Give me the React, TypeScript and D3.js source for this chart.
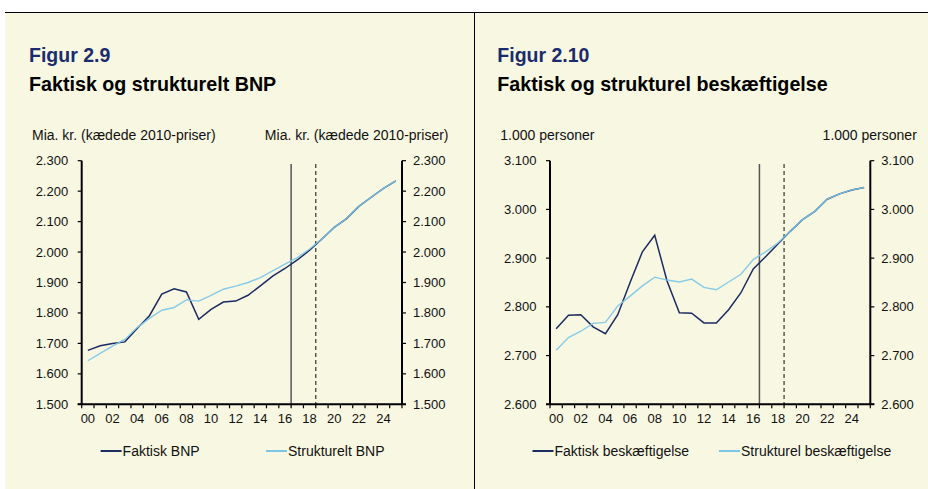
import * as d3 from "d3";

// categories 2000-2025, shown as two-digit years
const years = ["00", "01", "02", "03", "04", "05", "06", "07", "08", "09", "10", "11", "12",
    "13", "14", "15", "16", "17", "18", "19", "20", "21", "22", "23", "24", "25"];
const yearLabels = ["00", "02", "04", "06", "08", "10", "12", "14", "16", "18", "20", "22", "24"];

// Figur 2.9 - BNP, mia. kr.
const faktiskBNP = [1677, 1692, 1700, 1705, 1749, 1791, 1862, 1879, 1869, 1779, 1812, 1836, 1839,
    1858, 1889, 1921, 1946, 1974, 2006, 2043, 2081, 2110, 2150, 2180, 2209, 2234];
const struktureltBNP = [1643, 1667, 1691, 1713, 1752, 1782, 1809, 1818, 1843, 1839, 1858, 1878, 1888,
    1900, 1916, 1938, 1960, 1982, 2010, 2043, 2081, 2110, 2150, 2180, 2209, 2234];
const bnpTicks = [1500, 1600, 1700, 1800, 1900, 2000, 2100, 2200, 2300];

// Figur 2.10 - beskæftigelse, 1.000 personer
const faktiskBesk = [2755, 2783, 2784, 2759, 2745, 2784, 2850, 2913, 2947, 2853, 2788, 2787, 2767,
    2767, 2794, 2829, 2878, 2903, 2929, 2955, 2979, 2996, 3021, 3032, 3040, 3045];
const strukturelBesk = [2711, 2737, 2750, 2766, 2768, 2802, 2822, 2843, 2861, 2855, 2851, 2857, 2840,
    2835, 2851, 2867, 2897, 2913, 2931, 2955, 2979, 2996, 3021, 3032, 3040, 3045];
const beskTicks = [2600, 2700, 2800, 2900, 3000, 3100];

// vertical markers sit on the boundary before these categories
const solidMarker = "17";
const dashedMarker = "19";

const FONT = "'Liberation Sans', Arial, sans-serif";
const DARK = "#1c2b62";
const LIGHT = "#7cc7e8";
const BG = "#f8f7e2";

const fmt = d3.formatLocale({ decimal: ",", thousands: ".", grouping: [3], currency: ["", ""] }).format(",");

function Panel({ dx, figur, title, unit, yTicks, actual, structural, labels, legendX }) {
    const left = dx + 81.7;
    const right = dx + 402;
    const top = 160.7;
    const bottom = 404.3;

    const x = d3.scaleBand().domain(years).range([left, right]).padding(0);
    const cx = (c) => x(c) + x.bandwidth() / 2;
    const y = d3.scaleLinear().domain([yTicks[0], yTicks[yTicks.length - 1]]).range([bottom, top]);

    const line = d3.line().x((d, i) => cx(years[i])).y(d => y(d));

    return (
        <g fontFamily={FONT}>
            <text x={dx + 29} y={62} fontSize={19.5} fontWeight="bold" fill="#1b2c6e">{figur}</text>
            <text x={dx + 29} y={91} fontSize={19.7} fontWeight="bold" fill="#000">{title}</text>
            <text x={dx + 32} y={140} fontSize={14} fill="#111">{unit}</text>
            <text x={dx + 448.5} y={140} fontSize={14} fill="#111" textAnchor="end">{unit}</text>

            {/* markers */}
            <line x1={x(solidMarker)} x2={x(solidMarker)} y1={164} y2={bottom} stroke="#555" strokeWidth={1.5} />
            <line x1={x(dashedMarker)} x2={x(dashedMarker)} y1={164} y2={bottom} stroke="#333" strokeWidth={1.2} strokeDasharray="4,3" />

            <path d={line(actual)} fill="none" stroke={DARK} strokeWidth={1.5} />
            <path d={line(structural)} fill="none" stroke={LIGHT} strokeWidth={1.4} strokeOpacity={0.92} />

            {/* y axes */}
            <line x1={left} x2={left} y1={top} y2={bottom} stroke="#000" strokeWidth={2} />
            <line x1={right} x2={right} y1={top} y2={bottom} stroke="#000" strokeWidth={2} />
            {yTicks.map(t => (
                <g key={t}>
                    <line x1={left - 4} x2={left} y1={y(t)} y2={y(t)} stroke="#000" strokeWidth={1.2} />
                    <line x1={right} x2={right + 4} y1={y(t)} y2={y(t)} stroke="#000" strokeWidth={1.2} />
                    <text x={left - 13.5} y={y(t) + 4.5} fontSize={13} textAnchor="end" fill="#111">{fmt(t)}</text>
                    <text x={right + 11} y={y(t) + 4.5} fontSize={13} fill="#111">{fmt(t)}</text>
                </g>
            ))}

            {/* x axis */}
            <line x1={left - 4} x2={right + 4} y1={bottom} y2={bottom} stroke="#000" strokeWidth={2} />
            {years.concat(["end"]).map((c, i) => {
                const xx = c === "end" ? right : x(c);
                return <line key={i} x1={xx} x2={xx} y1={bottom} y2={bottom + 4} stroke="#000" strokeWidth={1.2} />;
            })}
            {yearLabels.map(c => (
                <text key={c} x={cx(c)} y={423} fontSize={13} textAnchor="middle" fill="#111">{c}</text>
            ))}

            {/* legend */}
            {labels.map((lab, i) => (
                <g key={lab} transform={`translate(${legendX[i]}, 451)`}>
                    <line x1={0} x2={21} y1={0} y2={0} stroke={i === 0 ? DARK : LIGHT} strokeWidth={2} />
                    <text x={22} y={5} fontSize={14} fill="#111">{lab}</text>
                </g>
            ))}
        </g>
    );
}

export default function App() {
    return (
        <svg width={928} height={489} style={{ position: "absolute", left: 0, top: 0, display: "block" }}>
            <rect x={0} y={0} width={928} height={489} fill="#fff" />
            <rect x={5} y={12} width={923} height={477} fill={BG} />
            <line x1={5} x2={928} y1={12.5} y2={12.5} stroke="#000" strokeWidth={1} />
            <line x1={474.5} x2={474.5} y1={12} y2={489} stroke="#000" strokeWidth={1} />

            <Panel
                dx={0}
                figur="Figur 2.9"
                title="Faktisk og strukturelt BNP"
                unit="Mia. kr. (kædede 2010-priser)"
                yTicks={bnpTicks}
                actual={faktiskBNP}
                structural={struktureltBNP}
                labels={["Faktisk BNP", "Strukturelt BNP"]}
                legendX={[100.6, 266]}
            />
            <Panel
                dx={468.3}
                figur="Figur 2.10"
                title="Faktisk og strukturel beskæftigelse"
                unit="1.000 personer"
                yTicks={beskTicks}
                actual={faktiskBesk}
                structural={strukturelBesk}
                labels={["Faktisk beskæftigelse", "Strukturel beskæftigelse"]}
                legendX={[532.5, 719]}
            />
        </svg>
    );
}
